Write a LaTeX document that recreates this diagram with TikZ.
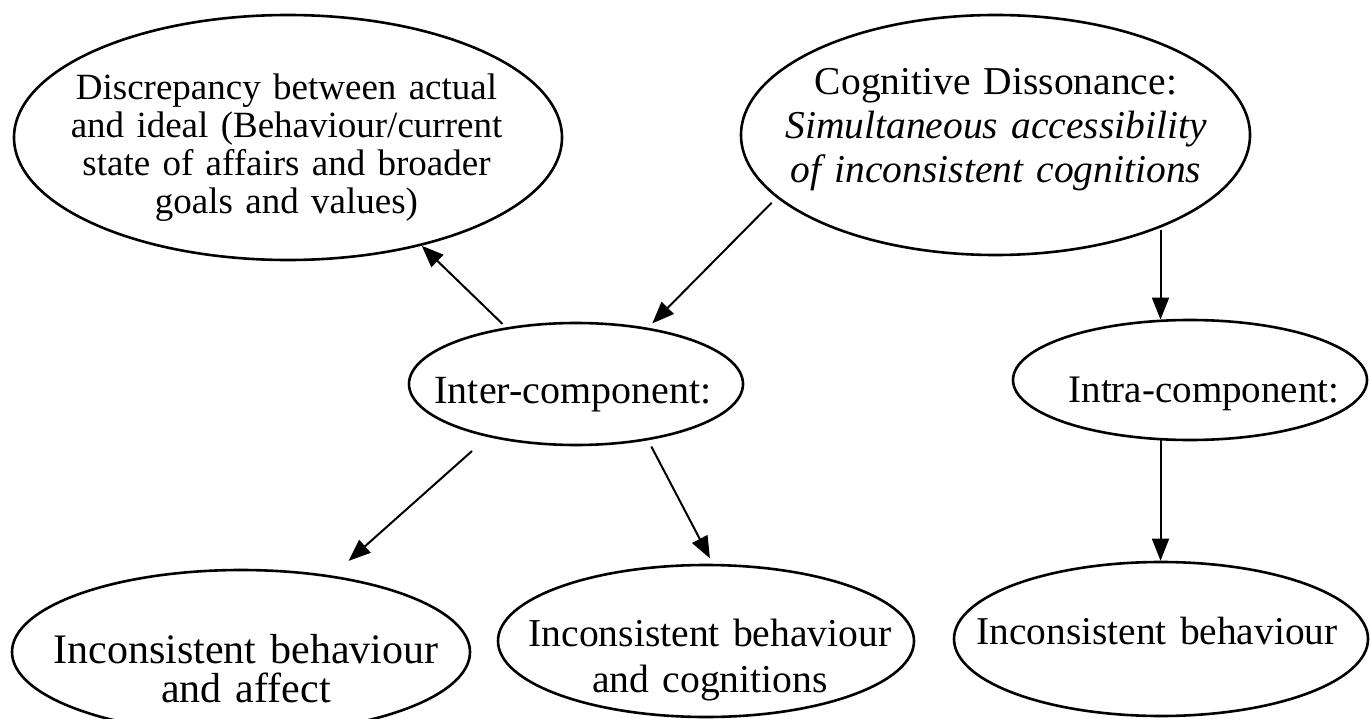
\documentclass[tikz,border=0pt]{standalone}
\usepackage{fontspec}
\setmainfont{Liberation Serif}
\usetikzlibrary{shapes.geometric,arrows.meta}
% font size / baseline skip in pt
\newcommand\setfs[2]{\fontsize{#1pt}{#2pt}\selectfont}
\begin{document}
\begin{tikzpicture}[x=1pt,y=-1pt,
  oval/.style={draw, ellipse, line width=2.6pt, inner sep=0pt},
  txt/.style={anchor=base, text width=600pt, align=center, inner sep=0pt},
  arr/.style={-{Triangle[length=22pt,width=17pt]}, line width=2pt}]
\useasboundingbox (0,0) rectangle (1370,719);

% ellipses
\node[oval, minimum width=548pt, minimum height=245pt] (disc)   at (288,137.5) {};
\node[oval, minimum width=509pt, minimum height=240pt] (cog)    at (995.5,135) {};
\node[oval, minimum width=334pt, minimum height=122pt] (inter)  at (576,384)   {};
\node[oval, minimum width=354pt, minimum height=120pt] (intra)  at (1190,380)  {};
\node[oval, minimum width=458pt, minimum height=164pt] (affect) at (241,652)   {};
\node[oval, minimum width=416pt, minimum height=152pt] (cogn)   at (706,641)   {};
\node[oval, minimum width=414pt, minimum height=154pt] (behav)  at (1161,639)  {};

% texts (placed by the baseline of their first line)
\node[txt, font=\setfs{37}{37.7}] (disc-t) at (286.5,100)
  {Discrepancy between actual\\and ideal (Behaviour/current\\state of affairs and broader\\goals and values)};
\node[txt, font=\setfs{39.5}{44}] (cog-t) at (996,95)
  {Cognitive Dissonance:\\\itshape Simultaneous accessibility\\of inconsistent cognitions};
\node[txt, font=\setfs{40}{44}] (inter-t) at (573,403) {Inter-component:};
\node[txt, font=\setfs{39}{44}] (intra-t) at (1204,402) {Intra-component:};
\node[txt, font=\setfs{42}{39}] (affect-t) at (246,663) {Inconsistent behaviour\\and affect};
\node[txt, font=\setfs{39.6}{46}] (cogn-t) at (710,646) {Inconsistent behaviour\\and cognitions};
\node[txt, font=\setfs{39.4}{44}] (behav-t) at (1157,644) {Inconsistent behaviour};

% connectors
\draw[arr, shorten <=7pt, shorten >=6pt] (cog.196.8) -- (inter.38.8);
\draw[arr] (intra.116.1 |- cog.-31) -- (intra.116.1);
\draw[arr, shorten <=5pt] (inter.141.4) -- (disc.-39.2);
\draw[arr, shorten <=21pt, shorten >=22pt] (inter.-149.3) -- (affect.40.07);
\draw[arr, shorten <=7pt, shorten >=6pt] (inter.-38.3) -- (cogn.85.8);
\draw[arr] (intra.-116.1) -- (intra.-116.1 |- behav.north);
\end{tikzpicture}
\end{document}
